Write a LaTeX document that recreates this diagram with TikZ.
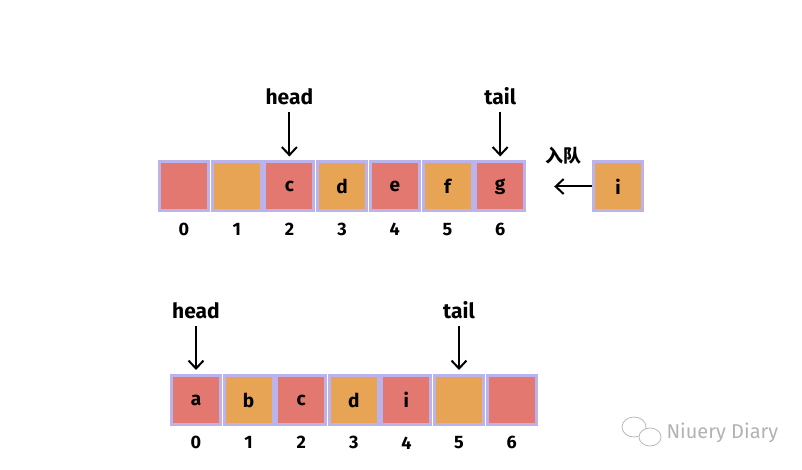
\documentclass[tikz,border=0pt]{standalone}
\usepackage{fontspec}
\setmainfont{Fira Sans}
\newfontfamily\cjkfont{Noto Sans CJK SC}
\usetikzlibrary{arrows.meta,positioning}
\definecolor{cellred}{HTML}{E27870}
\definecolor{cellorange}{HTML}{E8A455}
\definecolor{cellrim}{HTML}{BAB3EC}
\tikzset{
  cell/.style={
    rectangle,
    draw=cellrim,
    line width=3pt,
    minimum width=49pt,
    minimum height=49pt,
    inner sep=0pt,
    font=\bfseries\fontsize{19}{19}\selectfont
  },
  red cell/.style={cell, fill=cellred},
  orange cell/.style={cell, fill=cellorange},
  index/.style={font=\bfseries\fontsize{18}{18}\selectfont},
  pointer/.style={font=\bfseries\fontsize{21}{21}\selectfont, text height=14pt, text depth=0pt},
  arrow/.style={-{Straight Barb[length=8pt,width=15pt]}, line width=2pt}
}

\begin{document}
\begin{tikzpicture}[x=1pt, y=-1pt]
  \useasboundingbox (0,0) rectangle (802,470);
  % before enqueue
  \foreach \i/\c/\t in {0/red/{},1/orange/{},2/red/c,3/orange/d,4/red/e,5/orange/f,6/red/g}{
    \node[\c\space cell] (t\i) at (184+52.7*\i,186.5) {\t};
    \node[index, below=7pt of t\i] (ti\i) {\i};
  }
  \node[orange cell] (new) at (618,186.5) {i};
  \node[pointer, above=52pt of t2] (thead) {head};
  \node[pointer, above=52pt of t6] (ttail) {tail};
  \node[font=\cjkfont\bfseries\fontsize{18}{18}\selectfont] (enq) at (563,156) {入队};

  \draw[arrow, shorten >=4pt, shorten <=4pt] (thead) -- (t2);
  \draw[arrow, shorten >=4pt, shorten <=4pt] (ttail) -- (t6);
  \draw[arrow, shorten >=28pt] (new) -- (t6);

  % after enqueue
  \foreach \i/\c/\t in {0/red/a,1/orange/b,2/red/c,3/orange/d,4/red/i,5/orange/{},6/red/{}}{
    \node[\c\space cell] (b\i) at (196+52.6*\i,400) {\t};
    \node[index, below=7pt of b\i] (bi\i) {\i};
  }
  \node[pointer, above=52pt of b0] (bhead) {head};
  \node[pointer, above=52pt of b5] (btail) {tail};

  \draw[arrow, shorten >=4pt, shorten <=4pt] (bhead) -- (b0);
  \draw[arrow, shorten >=4pt, shorten <=4pt] (btail) -- (b5);

  % watermark
  \draw[gray!55, line width=0.8pt] (634,427) ellipse (12 and 10);
  \draw[gray!55, line width=0.8pt, fill=white] (650,437) ellipse (11 and 9);
  \node[text=gray!60, font=\fontsize{20}{20}\selectfont, anchor=west] (mark) at (663,433) {Niuery Diary};
\end{tikzpicture}
\end{document}
